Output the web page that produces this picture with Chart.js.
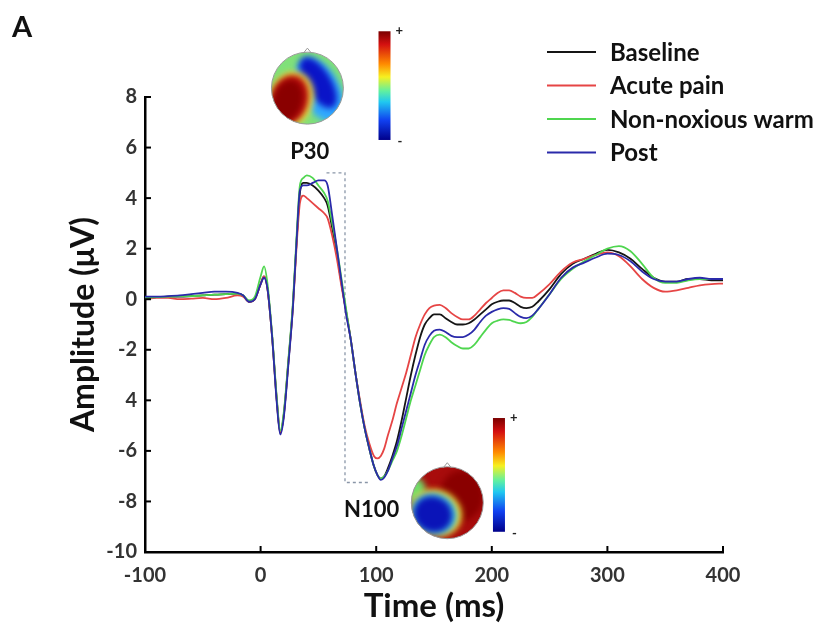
<!DOCTYPE html>
<html>
<head>
<meta charset="utf-8">
<script src="https://cdn.jsdelivr.net/npm/chart.js@4.4.1/dist/chart.umd.min.js"></script>
<style>
  body { margin: 0; background: #fff; }
  #wrap { position: relative; width: 827px; height: 635px; overflow: hidden; }
  #panel { position: absolute; left: 12px; top: 8px; font: bold 29px Lato, sans-serif; color: #111; }
</style>
</head>
<body>
<div id="wrap">
  <canvas id="erpChart" width="827" height="635"></canvas>
  <div id="panel">A</div>
</div>
<script>
const times = [-100, -90, -80, -70, -60, -50, -40, -30, -20, -15, -10, -5, 0, 3, 6, 10, 14, 17, 20, 24, 28, 31, 34, 37, 40, 45, 50, 55, 58, 62, 66, 70, 74, 78, 82, 86, 90, 94, 98, 101, 104, 107, 110, 114, 118, 122, 126, 130, 134, 138, 142, 146, 150, 155, 160, 165, 170, 175, 180, 185, 190, 195, 200, 205, 210, 215, 220, 225, 230, 235, 240, 250, 260, 270, 280, 290, 300, 310, 320, 330, 340, 350, 360, 370, 380, 390, 400];

const baseline = [0.05, 0.08, 0.1, 0.1, 0.12, 0.15, 0.18, 0.2, 0.22, 0.15, -0.1, 0.0, 0.6, 0.9, 0.4, -1.5, -4.0, -5.3, -4.6, -2.5, -0.2, 2.2, 4.2, 4.6, 4.6, 4.5, 4.3, 4.0, 3.7, 2.8, 1.8, 0.6, -0.5, -1.6, -2.9, -4.1, -5.1, -5.9, -6.6, -6.95, -7.1, -7.0, -6.7, -6.2, -5.6, -4.8, -3.9, -3.0, -2.2, -1.5, -1.0, -0.75, -0.6, -0.6, -0.75, -0.9, -1.0, -1.0, -0.95, -0.8, -0.6, -0.4, -0.2, -0.1, -0.05, -0.05, -0.15, -0.3, -0.35, -0.3, -0.1, 0.4, 1.0, 1.4, 1.6, 1.8, 1.95, 1.85, 1.6, 1.2, 0.85, 0.7, 0.7, 0.8, 0.8, 0.75, 0.75];

const acutePain = [0.0, 0.05, 0.05, 0.0, 0.02, 0.05, 0.0, 0.05, 0.15, 0.1, -0.1, 0.0, 0.6, 0.9, 0.4, -1.5, -4.0, -5.25, -4.6, -2.5, -0.3, 2.0, 3.8, 4.1, 4.0, 3.8, 3.6, 3.4, 3.2, 2.5, 1.6, 0.5, -0.5, -1.6, -2.9, -4.0, -5.0, -5.7, -6.2, -6.3, -6.2, -5.9, -5.4, -4.8, -4.1, -3.5, -2.9, -2.2, -1.5, -1.0, -0.6, -0.35, -0.25, -0.22, -0.35, -0.55, -0.7, -0.8, -0.8, -0.65, -0.4, -0.15, 0.05, 0.25, 0.35, 0.35, 0.25, 0.1, 0.05, 0.05, 0.2, 0.6, 1.1, 1.45, 1.6, 1.75, 1.85, 1.7, 1.3, 0.8, 0.45, 0.3, 0.35, 0.45, 0.55, 0.6, 0.62];

const warm = [0.05, 0.08, 0.1, 0.12, 0.12, 0.15, 0.18, 0.2, 0.22, 0.15, -0.05, 0.1, 0.9, 1.3, 0.6, -1.4, -3.9, -5.2, -4.5, -2.4, -0.1, 2.4, 4.5, 4.8, 4.9, 4.8, 4.5, 4.2, 3.9, 3.0, 2.0, 0.8, -0.4, -1.6, -2.9, -4.1, -5.1, -5.9, -6.6, -6.95, -7.1, -7.0, -6.8, -6.4, -6.0, -5.4, -4.7, -4.0, -3.4, -2.8, -2.2, -1.8, -1.5, -1.4, -1.5, -1.7, -1.85, -1.95, -1.95, -1.8, -1.5, -1.2, -0.95, -0.85, -0.8, -0.82, -0.9, -0.95, -0.9, -0.7, -0.4, 0.2, 0.8, 1.2, 1.5, 1.75, 2.0, 2.1, 1.9, 1.4, 0.85, 0.65, 0.65, 0.75, 0.8, 0.8, 0.8];

const post = [0.1, 0.1, 0.12, 0.15, 0.2, 0.25, 0.3, 0.3, 0.25, 0.15, -0.1, 0.0, 0.6, 0.85, 0.4, -1.5, -4.1, -5.35, -4.7, -2.6, -0.3, 2.2, 4.3, 4.5, 4.5, 4.6, 4.7, 4.7, 4.5, 3.3, 2.0, 0.7, -0.6, -1.6, -2.9, -4.1, -5.1, -5.9, -6.6, -6.95, -7.15, -7.05, -6.8, -6.3, -5.8, -5.1, -4.4, -3.7, -3.0, -2.4, -1.8, -1.45, -1.25, -1.2, -1.3, -1.45, -1.5, -1.5, -1.4, -1.2, -0.9, -0.65, -0.5, -0.4, -0.35, -0.38, -0.55, -0.7, -0.75, -0.65, -0.4, 0.2, 0.85, 1.25, 1.45, 1.65, 1.8, 1.75, 1.5, 1.1, 0.8, 0.7, 0.7, 0.8, 0.85, 0.8, 0.8];

const boxTimes = [57, 73, 73, 94];
const boxValues = [5.0, 5.0, -7.25, -7.25];

const xTicks = [-100, 0, 100, 200, 300, 400];
const yTicks = [-10, -8, -6, -4, -2, 0, 2, 4, 6, 8];
const yTickLabels = ['-10', '-8', '-6', '4', '-2', '0', '2', '4', '6', '8'];

const seriesNames = ['Baseline', 'Acute pain', 'Non-noxious warm', 'Post'];
const seriesColors = ['#151515', '#e64545', '#4fd64f', '#2a2aaa'];
const seriesData = [baseline, acutePain, warm, post];

const toPoints = (xs, ys) => xs.map((t, i) => ({ x: t, y: ys[i] }));

const datasets = seriesData.map((vals, i) => ({
    label: seriesNames[i],
    data: toPoints(times, vals),
    borderColor: seriesColors[i],
    borderWidth: 1.8,
    pointRadius: 0,
    cubicInterpolationMode: 'monotone',
    order: i === 3 ? 0 : 4 - i
}));

datasets.push({
    label: 'box',
    data: toPoints(boxTimes, boxValues),
    borderColor: '#8a96a8',
    borderWidth: 1.3,
    borderDash: [3, 3],
    pointRadius: 0,
    tension: 0,
    order: 10
});

const font = 'Lato, "Open Sans", sans-serif';

// inward tick marks
const tickPlugin = {
    id: 'inTicks',
    afterDraw(chart) {
        const { ctx, chartArea: a, scales: { x, y } } = chart;
        ctx.save();
        ctx.strokeStyle = '#000';
        ctx.lineWidth = 2;
        xTicks.forEach(v => {
            const px = x.getPixelForValue(v);
            ctx.beginPath(); ctx.moveTo(px, a.bottom); ctx.lineTo(px, a.bottom - 6); ctx.stroke();
        });
        yTicks.forEach(v => {
            const py = y.getPixelForValue(v);
            ctx.beginPath(); ctx.moveTo(a.left, py); ctx.lineTo(a.left + 6, py); ctx.stroke();
        });
        ctx.restore();
    }
};

// legend at upper right
const legendPlugin = {
    id: 'sideLegend',
    afterDraw(chart) {
        const ctx = chart.ctx;
        ctx.save();
        ctx.font = 'bold 24px ' + font;
        ctx.textBaseline = 'middle';
        seriesNames.forEach((name, i) => {
            const yy = 52 + i * 33.5;
            ctx.strokeStyle = seriesColors[i];
            ctx.lineWidth = 2.2;
            ctx.beginPath(); ctx.moveTo(547, yy); ctx.lineTo(596, yy); ctx.stroke();
            ctx.fillStyle = '#111';
            ctx.fillText(name, 610, yy + 1);
        });
        ctx.restore();
    }
};

function jetGradient(ctx, top, bottom) {
    const g = ctx.createLinearGradient(0, top, 0, bottom);
    g.addColorStop(0, '#7a0000');
    g.addColorStop(0.12, '#d41010');
    g.addColorStop(0.3, '#ff8a00');
    g.addColorStop(0.42, '#f6f020');
    g.addColorStop(0.55, '#60f0a0');
    g.addColorStop(0.65, '#20c8f0');
    g.addColorStop(0.82, '#1040f0');
    g.addColorStop(1, '#00008a');
    return g;
}

function drawHead(ctx, cx, cy, r, base, blobs) {
    ctx.save();
    ctx.beginPath(); ctx.arc(cx, cy, r, 0, Math.PI * 2); ctx.clip();
    ctx.fillStyle = base;
    ctx.fillRect(cx - r, cy - r, 2 * r, 2 * r);
    ctx.filter = 'blur(3px)';
    blobs.forEach(b => {
        ctx.fillStyle = b.c;
        ctx.beginPath();
        ctx.ellipse(cx + b.x * r, cy + b.y * r, b.rx * r, b.ry * r, b.a || 0, 0, Math.PI * 2);
        ctx.fill();
    });
    ctx.restore();
    ctx.save();
    ctx.strokeStyle = '#9a9a9a';
    ctx.lineWidth = 1;
    ctx.beginPath(); ctx.arc(cx, cy, r, 0, Math.PI * 2); ctx.stroke();
    ctx.beginPath(); ctx.moveTo(cx - 4, cy - r + 1); ctx.lineTo(cx, cy - r - 4); ctx.lineTo(cx + 4, cy - r + 1); ctx.stroke();
    ctx.restore();
}

function drawBar(ctx, x0, top, bottom) {
    ctx.save();
    ctx.fillStyle = jetGradient(ctx, top, bottom);
    ctx.fillRect(x0, top, 12, bottom - top);
    ctx.fillStyle = '#222';
    ctx.font = 'bold 13px ' + font;
    ctx.textBaseline = 'middle';
    ctx.fillText('+', x0 + 17, top);
    ctx.fillText('-', x0 + 19, bottom + 2);
    ctx.restore();
}

// scalp maps, colour bars and component labels
const topoPlugin = {
    id: 'topo',
    afterDraw(chart) {
        const { ctx, scales: { x, y } } = chart;
        drawHead(ctx, x.getPixelForValue(40.5), y.getPixelForValue(8.35), 36, '#80e07a', [
            { x: 0.35, y: 0.05, rx: 0.55, ry: 0.98, a: -0.5, c: '#30a8ff' },
            { x: 0.3, y: -0.15, rx: 0.36, ry: 0.8, a: -0.55, c: '#0a14c8' },
            { x: -0.45, y: 0.3, rx: 0.62, ry: 0.78, a: 0.3, c: '#e8e040' },
            { x: -0.5, y: 0.32, rx: 0.52, ry: 0.7, a: 0.3, c: '#c01010' },
            { x: -0.55, y: 0.35, rx: 0.42, ry: 0.6, a: 0.3, c: '#8a0000' }
        ]);
        drawBar(ctx, x.getPixelForValue(102), y.getPixelForValue(10.6), y.getPixelForValue(6.3));
        drawHead(ctx, x.getPixelForValue(161.5), y.getPixelForValue(-8.05), 36, '#a80c0c', [
            { x: 0.4, y: -0.2, rx: 0.6, ry: 0.7, c: '#8a0000' },
            { x: -0.9, y: -0.35, rx: 0.3, ry: 0.35, c: '#6fdc6a' },
            { x: -0.32, y: 0.28, rx: 0.74, ry: 0.64, a: 0.4, c: '#f0d830' },
            { x: -0.36, y: 0.3, rx: 0.64, ry: 0.56, a: 0.4, c: '#3cc8e8' },
            { x: -0.4, y: 0.32, rx: 0.55, ry: 0.5, a: 0.4, c: '#0a14b8' }
        ]);
        drawBar(ctx, x.getPixelForValue(201), y.getPixelForValue(-4.7), y.getPixelForValue(-9.2));
        ctx.save();
        ctx.fillStyle = '#111';
        ctx.font = 'bold 22px ' + font;
        ctx.textAlign = 'center';
        ctx.textBaseline = 'middle';
        ctx.fillText('P30', x.getPixelForValue(42.5), y.getPixelForValue(5.82));
        ctx.fillText('N100', x.getPixelForValue(96), y.getPixelForValue(-8.35));
        ctx.restore();
    }
};

new Chart(document.getElementById('erpChart'), {
    type: 'line',
    data: { datasets },
    options: {
        responsive: false,
        animation: false,
        devicePixelRatio: 1,
        layout: { padding: { left: 0, right: 104, top: 97, bottom: 0 } },
        plugins: { legend: { display: false }, tooltip: { enabled: false } },
        scales: {
            x: {
                type: 'linear',
                min: -100,
                max: 400,
                afterFit: s => { s.height = 83; },
                afterBuildTicks: s => { s.ticks = xTicks.map(v => ({ value: v })); },
                grid: { drawOnChartArea: false, drawTicks: false },
                border: { color: '#000', width: 2.5 },
                ticks: { color: '#333', padding: 12, font: { family: font, size: 20, weight: 'bold' } },
                title: { display: true, text: 'Time (ms)', color: '#111', padding: { bottom: 9 }, font: { family: font, size: 33, weight: 'bold' } }
            },
            y: {
                min: -10,
                max: 8,
                afterFit: s => { s.width = 145; },
                afterBuildTicks: s => { s.ticks = yTicks.map(v => ({ value: v })); },
                grid: { drawOnChartArea: false, drawTicks: false },
                border: { color: '#000', width: 2.5 },
                ticks: {
                    color: '#333', padding: 8,
                    font: { family: font, size: 20, weight: 'bold' },
                    callback: v => yTickLabels[yTicks.indexOf(v)]
                },
                title: { display: true, text: 'Amplitude (μV)', color: '#111', padding: { top: 64 }, font: { family: font, size: 32, weight: 'bold' } }
            }
        }
    },
    plugins: [tickPlugin, topoPlugin, legendPlugin]
});
</script>
</body>
</html>
